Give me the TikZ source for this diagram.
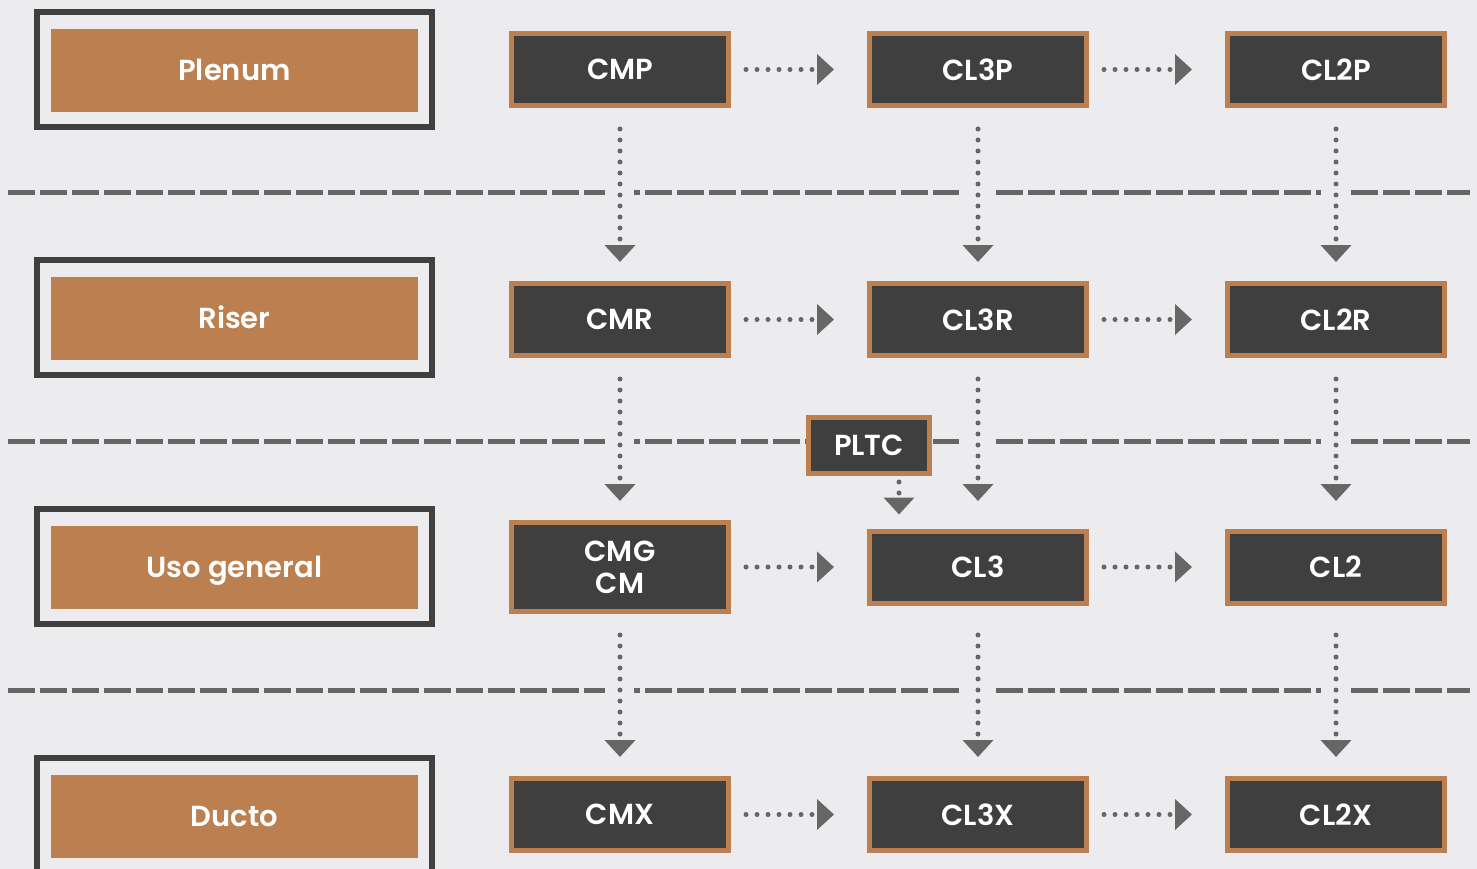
\documentclass[tikz,border=0pt]{standalone}
\usepackage{fontspec}
\setmainfont{Poppins SemiBold}
\usetikzlibrary{arrows.meta,positioning}
\definecolor{bgc}{HTML}{ECECEE}
\definecolor{dark}{HTML}{3F3F3F}
\definecolor{copper}{HTML}{BC7F50}
\definecolor{arrowgray}{HTML}{666666}

\begin{document}
\begin{tikzpicture}[x=1pt,y=-1pt,node distance=136pt,
		cable/.style={draw=copper,fill=dark,line width=5pt,minimum width=217pt,minimum height=72pt,inner sep=0pt,text=white,align=center,font=\fontsize{29}{32}\selectfont},
		classframe/.style={draw=dark,line width=6pt,minimum width=395pt,minimum height=115pt,inner sep=0pt},
		classbox/.style={fill=copper,minimum width=367pt,minimum height=83pt,inner sep=0pt,text height=20pt,text depth=0pt,text=white,font=\fontsize{29}{32}\selectfont},
		dotflow/.style={draw=arrowgray,line width=5pt,line cap=round,dash pattern=on 0pt off 11pt,-{Triangle[length=17pt,width=30pt]}},
		hflow/.style={dotflow,shorten <=15pt,shorten >=33pt},
		vflow/.style={dotflow,shorten <=21pt,shorten >=19pt},
		floorline/.style={draw=arrowgray,line width=5pt,dash pattern=on 27pt off 5pt}]
		% background and page size
		\fill[bgc] (0,0) rectangle (1477,869);
		\useasboundingbox (0,0) rectangle (1477,869);

		% dashed level lines
		\foreach \ly in {193,441,690}
			\foreach \xa/\xb/\ph in {8/605/0,634/959/21,996/1321/0,1351/1470/0}
				\draw[floorline,dash phase=\ph pt] (\xa,\ly) -- (\xb,\ly);

		% classes on the left
		\node[classframe] (fplenum) at (234.5,69.5) {};
		\node[classbox] (plenum) at (234.5,70.5) {Plenum};
		\node[classframe] (friser) at (234.5,317.5) {};
		\node[classbox] (riser) at (234.5,318.5) {Riser};
		\node[classframe] (fgeneral) at (234.5,566.5) {};
		\node[classbox] (general) at (234.5,567.5) {Uso general};
		\node[classframe] (fducto) at (234.5,815.5) {};
		\node[classbox] (ducto) at (234.5,816.5) {Ducto};

		% cables
		\node[cable] (cmp) at (620,69.5) {CMP};
		\node[cable] (cl3p) [right=of cmp] {CL3P};
		\node[cable] (cl2p) [right=of cl3p] {CL2P};
		\node[cable] (cmr) at (620,319.5) {CMR};
		\node[cable] (cl3r) [right=of cmr] {CL3R};
		\node[cable] (cl2r) [right=of cl3r] {CL2R};
		\node[cable,minimum height=89pt] (cmg) at (620,567) {CMG\\CM};
		\node[cable] (cl3) [right=of cmg] {CL3};
		\node[cable] (cl2) [right=of cl3] {CL2};
		\node[cable] (cmx) at (620,814.5) {CMX};
		\node[cable] (cl3x) [right=of cmx] {CL3X};
		\node[cable] (cl2x) [right=of cl3x] {CL2X};
		\node[cable,minimum width=121pt,minimum height=56pt] (pltc) at (869,445.5) {PLTC};
		\coordinate (pltcout) at ([xshift=30pt]pltc.south);

		% substitutions across
		\path (cmp) edge[hflow] (cl3p)
				(cl3p) edge[hflow] (cl2p)
				(cmr) edge[hflow] (cl3r)
				(cl3r) edge[hflow] (cl2r)
				(cmg) edge[hflow] (cl3)
				(cl3) edge[hflow] (cl2)
				(cmx) edge[hflow] (cl3x)
				(cl3x) edge[hflow] (cl2x);
		% substitutions down
		\path (cmp) edge[vflow] (cmr)
				(cl3p) edge[vflow] (cl3r)
				(cl2p) edge[vflow] (cl2r);
		\path (cmr) edge[vflow] (cmg)
				(cl3r) edge[vflow] (cl3r |- cmg.north)
				(cl2r) edge[vflow] (cl2r |- cmg.north);
		\path (cmg) edge[vflow] (cmx)
				(cl3 |- cmg.south) edge[vflow] (cl3x)
				(cl2 |- cmg.south) edge[vflow] (cl2x);
		\path (pltcout) edge[dotflow,shorten <=6pt,shorten >=14pt] (pltcout |- cl3.north);
\end{tikzpicture}
\end{document}
